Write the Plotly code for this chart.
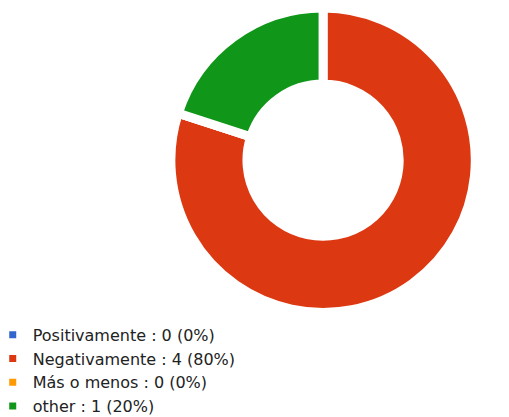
import plotly.graph_objects as go

# | data section |
categories = ["Positivamente", "Negativamente", "Más o menos", "other"]
counts = [0, 4, 0, 1]
colors = ["#3366cc", "#dc3912", "#ff9900", "#109618"]

total = sum(counts)
labels = [
    f"{c} : {v} ({round(100 * v / total)}%)" for c, v in zip(categories, counts)
]

# | graph section |
fig = go.Figure()

fig.add_trace(
    go.Pie(
        labels=labels,
        values=counts,
        hole=0.5,
        sort=False,
        direction="clockwise",
        rotation=0,
        textinfo="none",
        hoverinfo="skip",
        marker={"colors": colors, "line": {"color": "white", "width": 9}},
        domain={"x": [0.299, 0.939], "y": [0.27, 1.0]},
    )
)

fig.update_layout(
    {
        "width": 509,
        "height": 417,
        "margin": {"l": 0, "r": 0, "t": 0, "b": 0, "autoexpand": False},
        "paper_bgcolor": "white",
        "plot_bgcolor": "white",
        "showlegend": True,
        "legend": {
            "x": -0.03,
            "y": 0.003,
            "xanchor": "left",
            "yanchor": "bottom",
            "font": {"family": "DejaVu Sans", "size": 16, "color": "#222222"},
            "tracegroupgap": 0,
            "itemwidth": 30,
        },
    }
)

fig.write_html("out.html")
